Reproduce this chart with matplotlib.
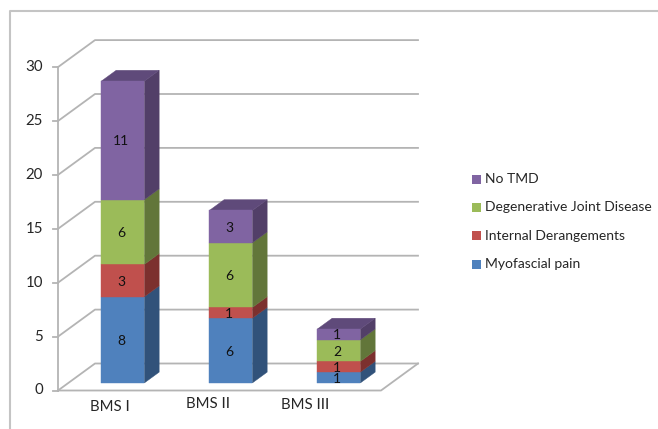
import matplotlib
matplotlib.use("Agg")
import matplotlib.pyplot as plt

# Data
categories = ["BMS I", "BMS II", "BMS III"]
series_names = ["Myofascial pain", "Internal Derangements", "Degenerative Joint Disease", "No TMD"]
myofascial = [8, 6, 1]
internal = [3, 1, 1]
degenerative = [6, 6, 2]
no_tmd = [11, 3, 1]
y_ticks = [0, 5, 10, 15, 20, 25, 30]

front_colors = ["#4F81BD", "#C0504D", "#9BBB59", "#8064A2"]
side_colors = ["#31527A", "#7C302E", "#62763A", "#523F68"]
top_colors = ["#3B5F8C", "#8E3B39", "#71883F", "#5F4A7A"]
grid_color = "#B4B4B4"
text_color = "#262626"

W, H = 658, 429
px_x = 108.0   # pixels per category
px_y = 10.78   # pixels per value unit
depth_x = 37.0 / px_x
depth_y = 27.0 / px_y
bar_w = 43.0 / px_x
z_front, z_back = 0.28, 0.68

# axes covers the figure, x in category units and y in chart values
x_zero = 112.5  # pixel of category 0 centre at front plane
y_zero = 390.5  # pixel of value 0


def proj(x, v, z=0.0):
    return x + z * depth_x, v + z * depth_y


plt.rcParams["font.family"] = ["Lato", "DejaVu Sans"]
fig = plt.figure(figsize=(W / 100, H / 100), dpi=100)
ax = fig.add_axes([0, 0, 1, 1])
ax.set_xlim(-x_zero / px_x, (W - x_zero) / px_x)
ax.set_ylim(-(H - y_zero) / px_y, y_zero / px_y)
ax.axis("off")

x_left = -54.5 / px_x
x_right = 268.5 / px_x

# outer chart frame
fx0, fx1 = (10 - x_zero) / px_x, (W + 5 - x_zero) / px_x
fy0, fy1 = (y_zero - 440) / px_y, (y_zero - 11) / px_y
ax.plot([fx0, fx0, fx1], [fy0, fy1, fy1], color="#C4C4C4", lw=1.5, zorder=1)

# gridlines on side and back walls
for t in y_ticks:
    xa, ya = proj(x_left, t, 0)
    xb, yb = proj(x_left, t, 1)
    xc, yc = proj(x_right, t, 1)
    ax.plot([xa, xb, xc], [ya, yb, yc], color=grid_color, lw=1.3, zorder=2)
    ax.plot([xa - 5 / px_x, xa], [ya, ya], color=grid_color, lw=1.3, zorder=2)
    ax.text(xa - 15 / px_x, t, str(t), ha="right", va="center", fontsize=10.8, color=text_color)

# vertical axis and floor
ax.plot([x_left, x_left], [0, y_ticks[-1]], color=grid_color, lw=1.3, zorder=2)
xa, ya = proj(x_right, 0, 0)
xb, yb = proj(x_right, 0, 1)
ax.plot([x_left, xa, xb], [0, ya, yb], color=grid_color, lw=1.3, zorder=2)

# stacked bars drawn as front, side and top faces
stack = [myofascial, internal, degenerative, no_tmd]
for i, cat in enumerate(categories):
    base = 0
    n = len(stack)
    for s in range(n):
        val = stack[s][i]
        top = base + val
        x0, x1 = i - bar_w / 2, i + bar_w / 2
        bl = proj(x0, base, z_front)
        br = proj(x1, base, z_front)
        tr = proj(x1, top, z_front)
        tl = proj(x0, top, z_front)
        brb = proj(x1, base, z_back)
        trb = proj(x1, top, z_back)
        tlb = proj(x0, top, z_back)
        ax.fill(*zip(bl, br, tr, tl), color=front_colors[s], lw=0.3, zorder=5)
        ax.fill(*zip(br, brb, trb, tr), color=side_colors[s], lw=0.3, zorder=4)
        if s == n - 1:
            ax.fill(*zip(tl, tr, trb, tlb), color=top_colors[s], lw=0.3, zorder=4)
        cx, cy = proj(i, base + val / 2, z_front)
        ax.text(cx - 1.5 / px_x, cy - 1.0 / px_y, str(val), ha="center", va="center", fontsize=10,
                color="#111111", zorder=6)
        base = top

# category labels
label_px = [(110, 407), (208, 404), (305, 405)]
for cat, (lx, ly) in zip(categories, label_px):
    ax.text((lx - x_zero) / px_x, (y_zero - ly) / px_y, cat, ha="center", va="center",
            fontsize=10.8, color=text_color)

# legend
legend_y = [264, 236, 207.5, 179.5]
for s, ly in enumerate(legend_y):
    lx = 472
    ax.fill([(lx - x_zero) / px_x, (lx + 9 - x_zero) / px_x, (lx + 9 - x_zero) / px_x, (lx - x_zero) / px_x],
            [(y_zero - ly + 4.5) / px_y, (y_zero - ly + 4.5) / px_y, (y_zero - ly - 4.5) / px_y, (y_zero - ly - 4.5) / px_y],
            color=front_colors[s], lw=0)
    ax.text((485 - x_zero) / px_x, (y_zero - ly) / px_y, series_names[s], ha="left", va="center",
            fontsize=10, color=text_color)

fig.savefig("out.png", dpi=100, facecolor="white")
